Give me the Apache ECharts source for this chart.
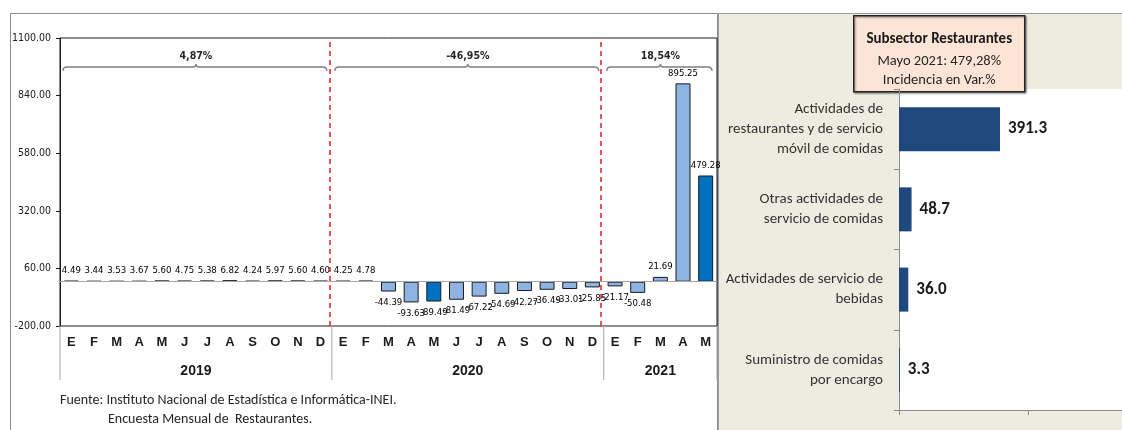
<!DOCTYPE html>
<html><head><meta charset="utf-8">
<script src="https://cdn.jsdelivr.net/npm/echarts@6/dist/echarts.min.js"></script>
<style>html,body{margin:0;padding:0;background:#fff}#c{width:1122px;height:430px}</style>
</head><body><div id="c"></div>
<script>
const months = ['E','F','M','A','M','J','J','A','S','O','N','D','E','F','M','A','M','J','J','A','S','O','N','D','E','F','M','A','M'];
const monthValues = [4.49,3.44,3.53,3.67,5.60,4.75,5.38,6.82,4.24,5.97,5.60,4.60,
  4.25,4.78,-44.39,-93.63,-89.49,-81.49,-67.22,-54.69,-42.27,-36.49,-33.01,-25.85,
  -21.17,-50.48,21.69,895.25,479.28];
const highlightIdx = [16, 28];
const yTicks = {min: -200, max: 1100, interval: 260};
const yearLabels = ['2019','2020','2021'];
const yearStart = [0, 12, 24];
const yearEnd = [12, 24, 29];
const yearChange = ['4,87%','-46,95%','18,54%'];
const redLinePos = [11.9, 23.87];

const subCategories = ['Actividades de\nrestaurantes y de servicio\nmóvil de comidas','Otras actividades de\nservicio de comidas','Actividades de servicio de\nbebidas','Suministro de comidas\npor encargo'];
const subValues = [391.3, 48.7, 36.0, 3.3];

const NARROW = '"Liberation Sans Narrow","Arial Narrow","DejaVu Sans Condensed",sans-serif';
const CAL = 'Carlito,Calibri,Lato,sans-serif';

const chart = echarts.init(document.getElementById('c'));
const groupData = yearLabels.map((y,i)=>[yearStart[i], yearEnd[i], i]);

chart.setOption({
  animation: false,
  graphic: [
    {type:'rect', z:-10, shape:{x:10.5,y:13.5,width:707,height:430}, style:{fill:'#fff',stroke:'#8c8c8c',lineWidth:1}},
    {type:'rect', z:-10, shape:{x:718.5,y:13.5,width:410,height:430}, style:{fill:'#EEECE1',stroke:'#9a9a9a',lineWidth:1}},
    {type:'text', z:10, left:60, top:393, style:{text:'Fuente: Instituto Nacional de Estadística e Informática-INEI.', font:'14px '+CAL, fill:'#262626'}},
    {type:'text', z:10, left:108, top:412, style:{text:'Encuesta Mensual de  Restaurantes.', font:'14px '+CAL, fill:'#262626'}},
    {type:'group', z:100, left:853, top:15, children:[
      {type:'rect', shape:{x:0,y:0,width:171,height:76}, style:{fill:'#FCE4D6',stroke:'#262626',lineWidth:1.5, shadowBlur:2, shadowColor:'rgba(0,0,0,0.4)', shadowOffsetX:1, shadowOffsetY:1}},
      {type:'text', style:{x:85.5,y:23,text:'Subsector Restaurantes',font:'bold 15px '+CAL,fill:'#1a1a1a',textAlign:'center',textVerticalAlign:'middle'}},
      {type:'text', style:{x:85.5,y:46,text:'Mayo 2021: 479,28%',font:'14.5px '+CAL,fill:'#262626',textAlign:'center',textVerticalAlign:'middle'}},
      {type:'text', style:{x:85.5,y:65,text:'Incidencia en Var.%',font:'14.5px '+CAL,fill:'#262626',textAlign:'center',textVerticalAlign:'middle'}}
    ]}
  ],
  grid: [
    {left:60, top:38, width:657, height:288, show:true, borderColor:'#1a1a1a', borderWidth:1, backgroundColor:'#fff'},
    {left:899, top:89, right:0, height:321, show:true, borderWidth:0, backgroundColor:'#fff'}
  ],
  xAxis: [
    {gridIndex:0, type:'category', data:months, position:'bottom',
     axisLine:{show:false}, axisTick:{show:false},
     axisLabel:{interval:0, margin:10, fontSize:13, fontWeight:'bold', color:'#1a1a1a', fontFamily:'"Liberation Sans",Arial,sans-serif'}},
    {gridIndex:0, type:'value', min:0, max:months.length, show:false},
    {gridIndex:1, type:'value', min:0, max:864, interval:500,
     axisLine:{show:true, lineStyle:{color:'#8a8a8a'}}, axisTick:{show:true, length:5, lineStyle:{color:'#8a8a8a'}},
     axisLabel:{show:false}, splitLine:{show:false}}
  ],
  yAxis: [
    {gridIndex:0, type:'value', min:yTicks.min, max:yTicks.max, interval:yTicks.interval,
     axisLine:{show:true, lineStyle:{color:'#1a1a1a'}}, axisTick:{show:true, length:4, lineStyle:{color:'#1a1a1a'}},
     splitLine:{show:false},
     axisLabel:{margin:9, fontSize:10.5, color:'#1a1a1a', fontFamily:NARROW, formatter:v=>v.toFixed(2)}},
    {gridIndex:1, type:'category', data:subCategories, inverse:true,
     axisLine:{show:true, lineStyle:{color:'#8a8a8a'}}, axisTick:{show:true, length:5, lineStyle:{color:'#8a8a8a'}},
     axisLabel:{margin:16, fontSize:15, lineHeight:20, color:'#333', fontFamily:CAL, align:'right'}}
  ],
  series: [
    {type:'bar', xAxisIndex:0, yAxisIndex:0, barWidth:'66%',
     data: monthValues.map((v,i)=>({value:v,
        itemStyle:{color: highlightIdx.includes(i)?'#0070C0':'#8DB4E2'},
        label:{position: v>=0?'top':'bottom', distance: v>=0?5:6}})),
     itemStyle:{borderColor:'#1a1a1a', borderWidth:1},
     label:{show:true, fontSize:9.5, color:'#000', fontFamily:NARROW, formatter:p=>p.value.toFixed(2)},
     markLine:{silent:true, symbol:'none', label:{show:false}, lineStyle:{color:'#a6a6a6', type:'solid', width:1},
       data:[{yAxis:0}]}},
    {type:'custom', xAxisIndex:1, yAxisIndex:0, clip:false, silent:true, data:groupData,
     renderItem:(params, api)=>{
       const s = api.value(0), e = api.value(1), i = api.value(2);
       const top = api.coord([s, yTicks.max])[1];
       const bot = api.coord([s, yTicks.min])[1];
       const xs = api.coord([s, 0])[0], xe = api.coord([e, 0])[0];
       const x1 = xs + 3, x2 = xe - 5, xm = (xs + xe)/2, y = top + 29;
       const br = `M${x1},${y+4} Q${x1},${y} ${x1+4},${y} L${xm-3},${y} Q${xm},${y} ${xm},${y-3} Q${xm},${y} ${xm+3},${y} L${x2-4},${y} Q${x2},${y} ${x2},${y+4}`;
       const ch = [
         {type:'path', shape:{pathData:br}, style:{fill:null, stroke:'#7f7f7f', lineWidth:1.3}},
         {type:'text', style:{x:xm, y:top+18, text:yearChange[i], font:'bold 10.5px '+NARROW, fill:'#262626', textAlign:'center', textVerticalAlign:'middle'}},
         {type:'text', style:{x:xm, y:bot+45, text:yearLabels[i], font:'bold 14px "Liberation Sans",Arial,sans-serif', fill:'#1a1a1a', textAlign:'center', textVerticalAlign:'middle'}},
         {type:'line', shape:{x1:xs, y1:bot, x2:xs, y2:bot+54}, style:{stroke:'#a6a6a6', lineWidth:1}}
       ];
       if (i === yearLabels.length-1) ch.push({type:'line', shape:{x1:xe, y1:bot, x2:xe, y2:bot+54}, style:{stroke:'#a6a6a6', lineWidth:1}});
       return {type:'group', children:ch};
     },
     markLine:{silent:true, symbol:'none', label:{show:false}, lineStyle:{color:'#e02020', type:[5,4], width:1.5},
       data: redLinePos.map(p=>({xAxis:p}))}},
    {type:'bar', xAxisIndex:2, yAxisIndex:1, barWidth:44, data:subValues,
     itemStyle:{color:'#1F497D'},
     label:{show:true, position:'right', distance:8, fontSize:17, fontWeight:'bold', color:'#1a1a1a', fontFamily:CAL, formatter:p=>p.value.toFixed(1)}}
  ]
});
</script></body></html>
